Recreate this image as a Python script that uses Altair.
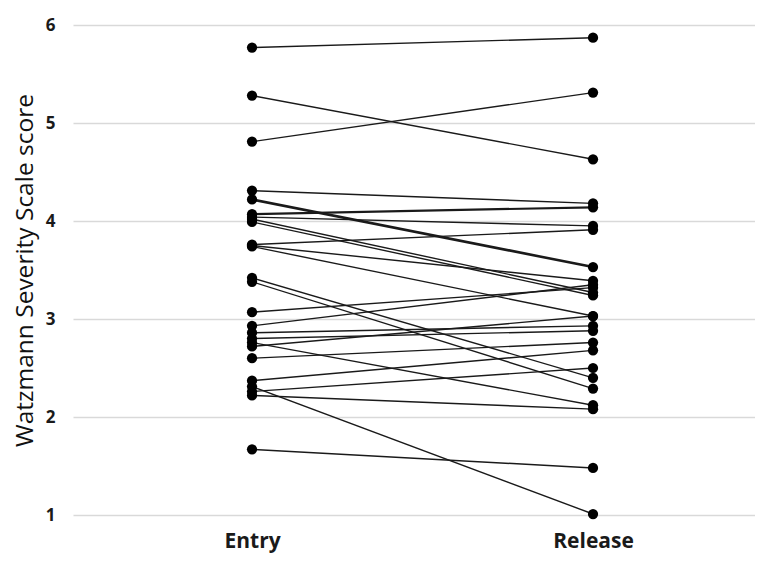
import altair as alt
import pandas as pd

phases = ["Entry", "Release"]
entry = [5.77, 5.28, 4.81, 4.31, 4.22, 4.07, 4.04, 4.02, 3.99, 3.76, 3.75, 3.74, 3.42,
         3.38, 3.07, 2.93, 2.86, 2.80, 2.76, 2.72, 2.60, 2.37, 2.31, 2.26, 2.22, 1.67]
release = [5.87, 4.63, 5.31, 4.18, 3.53, 4.14, 3.95, 3.27, 3.24, 3.91, 3.39, 3.03, 2.40,
           2.29, 3.32, 3.35, 2.93, 2.88, 2.12, 3.03, 2.76, 2.68, 1.01, 2.50, 2.08, 1.48]
weight = [1.4, 1.4, 1.4, 1.4, 2.6, 2.2, 1.4, 1.4, 1.4, 1.4, 1.4, 1.4, 1.4,
          1.4, 1.4, 1.4, 1.4, 1.4, 1.4, 1.4, 1.4, 1.4, 1.4, 1.4, 1.4, 1.4]
y_ticks = [1, 2, 3, 4, 5, 6]

rows = []
for i, (a, b, w) in enumerate(zip(entry, release, weight)):
    rows.append({"id": i, "phase": phases[0], "score": a, "w": w})
    rows.append({"id": i, "phase": phases[1], "score": b, "w": w})
df = pd.DataFrame(rows)

x = alt.X("phase:N", sort=phases, title=None,
          scale=alt.Scale(type="point", paddingOuter=0.477, align=0.525),
          axis=alt.Axis(ticks=False, domain=False, grid=False, labelAngle=0,
                        labelFont="Open Sans", labelFontSize=21, labelFontWeight="bold",
                        labelColor="#1a1a1a", labelPadding=15))
y = alt.Y("score:Q", title="Watzmann Severity Scale score",
          scale=alt.Scale(domain=[1, 6], nice=False, zero=False),
          axis=alt.Axis(values=y_ticks, ticks=False, domain=False, grid=True,
                        gridColor="#d9d9d9", gridWidth=1.5,
                        labelFont="Open Sans", labelFontSize=17, labelFontWeight="bold",
                        labelColor="#1a1a1a", labelPadding=18,
                        titleFont="Open Sans", titleFontSize=24.5, titleFontWeight=500,
                        titleColor="#111111", titleX=-48, titleY=245,
                        titleAngle=-90, titleAlign="center", titleBaseline="middle"))

base = alt.Chart(df)
lines = base.mark_line(color="#1a1a1a").encode(
    x=x, y=y, detail="id:N",
    strokeWidth=alt.StrokeWidth("w:Q", scale=None, legend=None))
points = base.mark_circle(color="#000000", opacity=1, size=105).encode(x=x, y=y)

chart = alt.layer(lines, points).properties(
    width=682, height=490,
    autosize=alt.AutoSizeParams(type="none"),
    padding={"left": 65, "top": 17, "right": 0, "bottom": 38},
).configure_view(stroke=None)

chart.save("out.html", embed_options={"renderer": "svg", "actions": False})
